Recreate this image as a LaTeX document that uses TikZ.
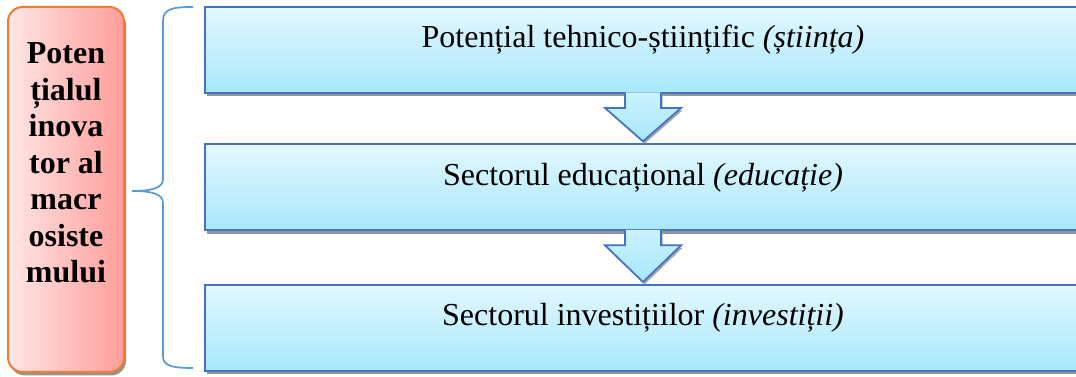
\documentclass[tikz,border=0pt]{standalone}
\usepackage{fontspec}
\setmainfont{Liberation Serif}
\usetikzlibrary{shadows, positioning, calc}

\definecolor{boxtop}{RGB}{226,248,255}
\definecolor{boxbottom}{RGB}{168,231,252}
\definecolor{boxborder}{RGB}{68,114,196}
\definecolor{pinkleft}{RGB}{255,230,230}
\definecolor{pinkright}{RGB}{255,157,153}
\definecolor{orangeborder}{RGB}{237,125,49}
\definecolor{bracecolor}{RGB}{91,155,213}

\begin{document}
\begin{tikzpicture}[
        x=0.75pt, y=0.75pt,
        font=\fontsize{24}{29}\selectfont,
        shade_drop/.style = {
            drop shadow={shadow xshift=1.5pt, shadow yshift=-2.6pt, fill=black!42, opacity=1}
        },
        sector/.style = {
            draw=boxborder,
            line width=1.5pt,
            top color=boxtop,
            bottom color=boxbottom,
            rectangle,
            shade_drop,
            minimum width=657pt,
            minimum height=64.5pt,
            text height=0pt,
            text depth=3pt,
            inner sep=0pt
        },
        potential/.style = {
            draw=orangeborder,
            line width=1.5pt,
            left color=pinkleft,
            right color=pinkright,
            rectangle,
            rounded corners=11pt,
            shade_drop,
            minimum width=87pt,
            minimum height=273.75pt
        },
        flow/.style = {
            draw=boxborder,
            line width=1.3pt,
            top color=boxtop!60!boxbottom,
            bottom color=boxbottom,
            line join=miter,
            drop shadow={shadow xshift=1.2pt, shadow yshift=-1.8pt, fill=black!35, opacity=1}
        },
        curly/.style = {
            draw=bracecolor,
            line width=1.3pt
        }
    ]

    \useasboundingbox (0,0) rectangle (1076,377);

    % left block
    \node[potential] (pot) at (66,187.5) {};
    \node[align=center, font=\fontsize{24}{27.4}\selectfont\bfseries] (potlabel) at (66,214)
        {Poten\\țialul\\inova\\tor al\\macr\\osiste\\mului};

    % sectors
    \node[sector] (sci) at (643,327) {Potențial tehnico-științific \textit{(știința)}};
    \node[sector, below=37pt of sci] (edu) {Sectorul educațional \textit{(educație)}};
    \node[sector, below=39.5pt of edu] (inv) {Sectorul investițiilor \textit{(investiții)}};

    % block arrows
    \foreach \from/\to in {sci/edu, edu/inv} {
        \draw[flow] ($(\from.south)+(-18,1.5)$) -- ++(0,-15.5) -- ++(-20,0)
            -- ($(\to.north)+(0,2)$)
            -- ($(\from.south)+(38,-14)$) -- ++(-20,0) -- ++(0,15.5);
    }

    % brace
    \draw[curly] (193,370) .. controls (172,370) and (163,368) .. (163,356)
        -- (163,198) .. controls (163,189) and (152,186) .. (132,186)
        .. controls (152,186) and (163,183) .. (163,174)
        -- (163,21) .. controls (163,11) and (172,9) .. (193,9);

\end{tikzpicture}
\end{document}
